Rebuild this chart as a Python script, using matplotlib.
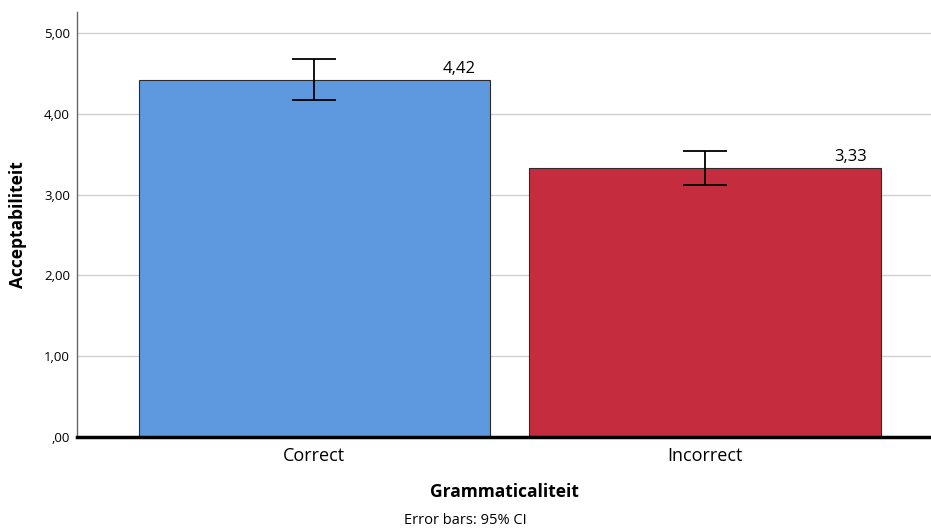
import matplotlib.pyplot as plt
from matplotlib.ticker import FuncFormatter

categories = ["Correct", "Incorrect"]
means = [4.42, 3.33]
ci_low = [4.17, 3.12]
ci_high = [4.68, 3.54]
colors = ["#5E98DE", "#C52D3F"]


def comma_fmt(v, pos):
    s = f"{v:.2f}".replace(".", ",")
    return s[1:] if s.startswith("0") else s


def main():
    plt.rcParams["font.family"] = ["Open Sans", "DejaVu Sans"]
    fig = plt.figure(figsize=(9.31, 5.31), dpi=100)
    ax = fig.add_axes([0.0827, 0.177, 0.9173, 0.8])

    x = list(range(len(categories)))
    ax.bar(x, means, width=0.9, color=colors, edgecolor="#2b2b2b",
           linewidth=0.8, zorder=2)

    yerr = [[m - lo for m, lo in zip(means, ci_low)],
            [hi - m for m, hi in zip(means, ci_high)]]
    ax.errorbar(x, means, yerr=yerr, fmt="none", ecolor="black",
                elinewidth=1.3, capsize=15.5, capthick=1.3, zorder=3)

    for xi, m in zip(x, means):
        ax.text(xi + 0.414, m + 0.04, f"{m:.2f}".replace(".", ","),
                ha="right", va="bottom", fontsize=12, zorder=4)

    ax.set_xlim(-0.608, 1.579)
    ax.set_ylim(0, 5.26)
    ax.set_yticks([0, 1, 2, 3, 4, 5])
    ax.yaxis.set_major_formatter(FuncFormatter(comma_fmt))
    ax.grid(axis="y", color="#d0d0d0", linewidth=1, zorder=0)
    ax.set_axisbelow(True)

    ax.set_xticks(x)
    ax.set_xticklabels(categories, fontsize=13)
    ax.tick_params(axis="x", length=0, pad=7)
    ax.tick_params(axis="y", length=0, labelsize=9.5, pad=5)

    for side in ["top", "right"]:
        ax.spines[side].set_visible(False)
    ax.spines["left"].set_color("#666666")
    ax.spines["left"].set_linewidth(1)
    ax.spines["bottom"].set_color("black")
    ax.spines["bottom"].set_linewidth(2.5)
    ax.spines["bottom"].set_zorder(5)

    ax.set_ylabel("Acceptabiliteit", fontsize=12.5, fontweight="bold")
    ax.yaxis.set_label_coords(-0.058, 0.5)
    ax.set_xlabel("Grammaticaliteit", fontsize=12.5, fontweight="bold")
    ax.xaxis.set_label_coords(0.5, -0.108)
    fig.text(0.5, 0.019, "Error bars: 95% CI", ha="center", va="center", fontsize=10.5)

    fig.savefig("out.png", dpi=100, facecolor="white")
    plt.close(fig)


if __name__ == "__main__":
    main()
